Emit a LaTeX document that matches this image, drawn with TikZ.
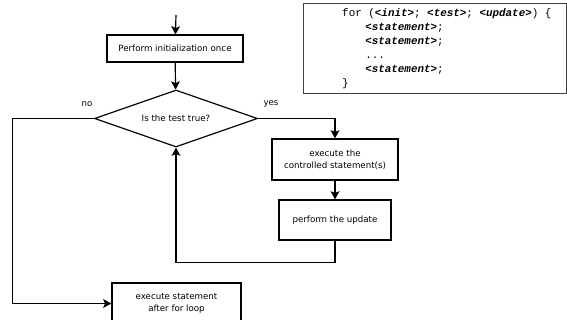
\documentclass[tikz,border=0pt]{standalone}
\usepackage{fontspec}
\setmainfont{DejaVu Sans}
\newfontfamily\codefont{Liberation Mono}
\usetikzlibrary{arrows.meta,shapes.geometric,positioning}

\newcommand{\ph}[1]{\textbf{\textit{<#1>}}}

\begin{document}
\begin{tikzpicture}[
    x=0.03cm, y=-0.03cm,
    box/.style={draw, line width=1pt, minimum width=#1, minimum height=0.81cm, align=center, font=\fontsize{7.4}{10}\selectfont, inner sep=1pt},
    dec/.style={draw, line width=1pt, diamond, aspect=2.86, minimum width=4.89cm, minimum height=1.71cm, inner sep=0pt, align=center, font=\fontsize{7.4}{10}\selectfont},
    arr/.style={-{Stealth[length=7pt, width=7.5pt, inset=1.5pt]}, line width=1pt},
    lbl/.style={font=\fontsize{7.4}{10}\selectfont, inner sep=1pt}
]
\useasboundingbox (0,0) rectangle (567,320);

\coordinate (start) at (176,15);
\node[box=4.08cm] (init) at (175,48.5) {Perform initialization once};
\node[dec] (test) at (176,118.5) {Is the test true?};
\node[box=3.78cm, minimum height=1.23cm] (exec) at (335,159.5) {execute the\\controlled statement(s)};
\node[box=3.36cm, minimum height=1.2cm] (upd) at (335,220) {perform the update};
\node[box=3.87cm, minimum height=1.23cm] (after) at (176.5,303.5) {execute statement\\after for loop};

\node[lbl] (no) at (87,104) {no};
\node[lbl] (yes) at (271,104) {yes};

% the loop as code
\node[draw=black!75, line width=0.6pt, minimum width=7.89cm, minimum height=2.7cm] (code) at (434.5,48) {};
\node[anchor=west, align=left, inner sep=0pt, font=\codefont\fontsize{9.3}{11.9}\selectfont] (src) at (342,49)
  {for (\ph{init}; \ph{test}; \ph{update}) \{\\
   \hspace*{4ex}\ph{statement};\\
   \hspace*{4ex}\ph{statement};\\
   \hspace*{4ex}...\\
   \hspace*{4ex}\ph{statement};\\
   \}};

\draw[arr] (start) -- (init);
\draw[arr] (init) -- (test);
\draw[arr] (test.east) -| (exec.north);
\draw[arr] (exec) -- (upd);
\draw[arr] (upd.south) -- ++(0,22) -| (test.south);
\draw[arr] (test.west) -- ++(-81,0) |- (after.west);
\end{tikzpicture}
\end{document}
